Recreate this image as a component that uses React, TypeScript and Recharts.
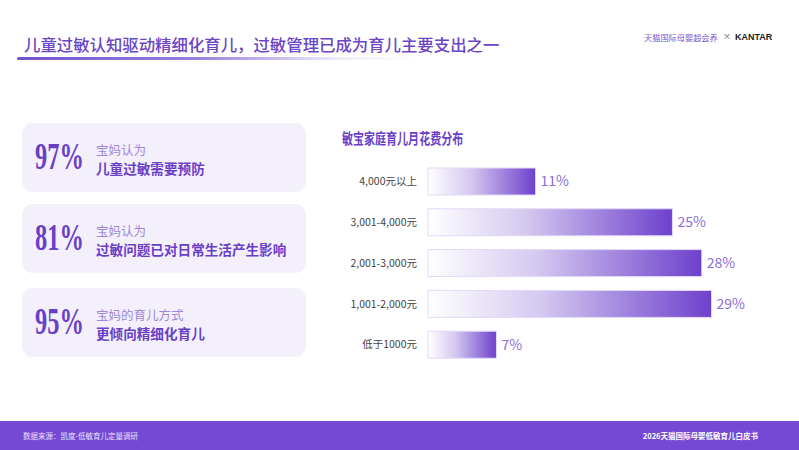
import React from 'react';
import { BarChart, Bar, XAxis, YAxis, LabelList } from 'recharts';

const categories = ['4,000元以上', '3,001-4,000元', '2,001-3,000元', '1,001-2,000元', '低于1000元'];
const shares = [11, 25, 28, 29, 7];

const statValues = ['97%', '81%', '95%'];
const statLeads = ['宝妈认为', '宝妈认为', '宝妈的育儿方式'];
const statTexts = ['儿童过敏需要预防', '过敏问题已对日常生活产生影响', '更倾向精细化育儿'];

const pageTitle = '儿童过敏认知驱动精细化育儿，过敏管理已成为育儿主要支出之一';
const chartTitle = '敏宝家庭育儿月花费分布';
const sourceNote = '数据来源：凯度-低敏育儿定量调研';
const reportName = '2026天猫国际母婴低敏育儿白皮书';

const data = categories.map((c, i) => ({ name: c, value: shares[i] }));

const CJK = '"Noto Sans CJK SC", "Noto Sans", sans-serif';
const PURPLE = '#6a3fc8';

const cardTops = [123, 204, 288];

export default function App() {
  return (
    <div
      style={{
        position: 'absolute',
        left: 0,
        top: 0,
        width: 799,
        height: 450,
        background: '#ffffff',
        overflow: 'hidden',
        fontFamily: CJK,
      }}
    >
      {/* Page title */}
      <div
        style={{
          position: 'absolute',
          left: 24,
          top: 32,
          fontSize: 16.4,
          lineHeight: '24px',
          color: '#6b45c5',
          fontWeight: 500,
          whiteSpace: 'nowrap',
        }}
      >
        {pageTitle}
      </div>
      <div
        style={{
          position: 'absolute',
          left: 17,
          top: 57,
          width: 400,
          height: 3,
          borderRadius: 2,
          background: 'linear-gradient(90deg, #7550cf 0%, #9a7fdc 45%, rgba(200,185,240,0.3) 80%, rgba(255,255,255,0) 100%)',
        }}
      />

      {/* Logo */}
      <div
        style={{
          position: 'absolute',
          left: 644,
          top: 31,
          fontSize: 8.2,
          lineHeight: '12px',
          color: '#7a5ad0',
          whiteSpace: 'nowrap',
        }}
      >
        天猫国际母婴超会养
      </div>
      <div style={{ position: 'absolute', left: 723, top: 30, fontSize: 8, lineHeight: '12px', color: '#555' }}>×</div>
      <div
        style={{
          position: 'absolute',
          left: 735,
          top: 31,
          fontSize: 9,
          lineHeight: '12px',
          color: '#222',
          fontWeight: 700,
          fontFamily: '"Liberation Sans", Arial, sans-serif',
        }}
      >
        KANTAR
      </div>

      {/* Stat cards */}
      {statValues.map((v, i) => (
        <div
          key={i}
          style={{
            position: 'absolute',
            left: 22,
            top: cardTops[i],
            width: 284,
            height: 69,
            borderRadius: 11,
            background: '#f3f0fb',
          }}
        >
          <div
            style={{
              position: 'absolute',
              left: 13,
              top: 14,
              fontSize: 37,
              lineHeight: '40px',
              color: PURPLE,
              fontWeight: 700,
              fontFamily: '"Liberation Serif", "DejaVu Serif", serif',
              transform: 'scaleX(0.66)',
              transformOrigin: 'left center',
              whiteSpace: 'nowrap',
            }}
          >
            {v}
          </div>
          <div
            style={{
              position: 'absolute',
              left: 74,
              top: 19.5,
              fontSize: 12.5,
              lineHeight: '14px',
              color: '#9d88d8',
              whiteSpace: 'nowrap',
            }}
          >
            {statLeads[i]}
          </div>
          <div
            style={{
              position: 'absolute',
              left: 74,
              top: 38,
              fontSize: 13.6,
              lineHeight: '15px',
              color: PURPLE,
              fontWeight: 700,
              whiteSpace: 'nowrap',
            }}
          >
            {statTexts[i]}
          </div>
        </div>
      ))}

      {/* Chart title */}
      <div
        style={{
          position: 'absolute',
          left: 342,
          top: 129,
          fontSize: 14.5,
          lineHeight: '18px',
          color: PURPLE,
          fontWeight: 700,
          transform: 'scaleX(0.76)',
          transformOrigin: 'left center',
          whiteSpace: 'nowrap',
          fontFamily: '"Noto Sans CJK SC", serif',
        }}
      >
        {chartTitle}
      </div>

      {/* Bar chart */}
      <div style={{ position: 'absolute', left: 330, top: 161 }}>
        <BarChart
          width={469}
          height={204}
          data={data}
          layout="vertical"
          margin={{ top: 0, right: 19, bottom: 0, left: 0 }}
        >
          <defs>
            <linearGradient id="barGrad" x1="0" y1="0" x2="1" y2="0">
              <stop offset="0%" stopColor="#ffffff" />
              <stop offset="40%" stopColor="#d4c8f0" />
              <stop offset="100%" stopColor="#6d40cc" />
            </linearGradient>
          </defs>
          <XAxis type="number" domain={[0, 36]} hide />
          <YAxis
            type="category"
            dataKey="name"
            width={98}
            axisLine={false}
            tickLine={false}
            tickMargin={5}
            tick={{ fill: '#444444', fontSize: 10.5, fontFamily: CJK }}
          />
          <Bar
            dataKey="value"
            barSize={27}
            fill="url(#barGrad)"
            stroke="#e2d9f6"
            strokeWidth={1}
            isAnimationActive={false}
          >
            <LabelList
              dataKey="value"
              position="right"
              offset={5}
              formatter={(v: number) => `${v}%`}
              style={{ fill: '#8c6cd8', fontSize: 14, fontFamily: CJK }}
            />
          </Bar>
        </BarChart>
      </div>

      {/* Footer */}
      <div
        style={{
          position: 'absolute',
          left: 0,
          top: 421,
          width: 799,
          height: 29,
          background: '#7649d4',
        }}
      >
        <div
          style={{
            position: 'absolute',
            left: 23,
            top: 10,
            fontSize: 7.5,
            lineHeight: '10px',
            color: '#e8e0fa',
            whiteSpace: 'nowrap',
          }}
        >
          {sourceNote}
        </div>
        <div
          style={{
            position: 'absolute',
            right: 41,
            top: 10,
            fontSize: 7.5,
            lineHeight: '10px',
            color: '#ffffff',
            fontWeight: 700,
            whiteSpace: 'nowrap',
          }}
        >
          {reportName}
        </div>
      </div>
    </div>
  );
}
